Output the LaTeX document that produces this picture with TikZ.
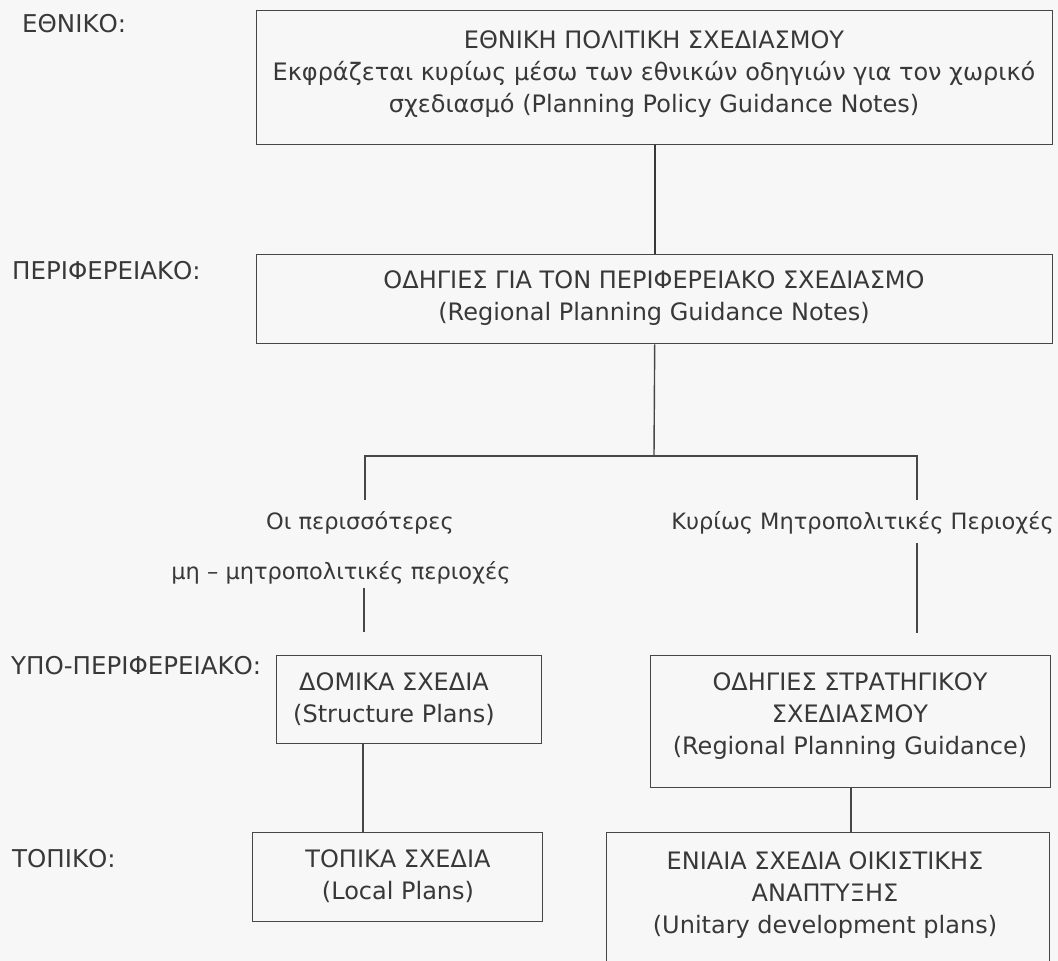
\documentclass[tikz,border=0pt]{standalone}
\usepackage{fontspec}
\setmainfont{DejaVu Sans}
\begin{document}
\begin{tikzpicture}[x=1pt,y=-1pt,
  txt/.style={font=\fontsize{24}{32}\selectfont, text=black!78, inner sep=0pt, align=center},
  lbl/.style={font=\fontsize{24.5}{32}\selectfont, text=black!78, inner sep=0pt},
  brl/.style={font=\fontsize{22.5}{30}\selectfont, text=black!78, inner sep=0pt},
  box/.style={draw=black!72, line width=1.4pt, inner sep=0pt},
  conn/.style={draw=black!72, line width=1.4pt},
  thick conn/.style={draw=black!78, line width=2.2pt}]
\fill[black!3] (0,0) rectangle (1058,961);
\useasboundingbox (0,0) rectangle (1058,961);

% level labels
\node[lbl, anchor=west] (l1) at (22,24) {ΕΘΝΙΚΟ:};
\node[lbl, anchor=west] (l2) at (12,271) {ΠΕΡΙΦΕΡΕΙΑΚΟ:};
\node[lbl, anchor=west] (l3) at (11,666) {ΥΠΟ-ΠΕΡΙΦΕΡΕΙΑΚΟ:};
\node[lbl, anchor=west] (l4) at (12,859) {ΤΟΠΙΚΟ:};

% boxes
\node[box, anchor=north west, minimum width=796pt, minimum height=134pt] (b1) at (256,10) {};
\node[txt] (t1) at (654,74) {ΕΘΝΙΚΗ ΠΟΛΙΤΙΚΗ ΣΧΕΔΙΑΣΜΟΥ\\Εκφράζεται κυρίως μέσω των εθνικών οδηγιών για τον χωρικό\\σχεδιασμό (Planning Policy Guidance Notes)};

\node[box, anchor=north west, minimum width=796pt, minimum height=89pt] (b2) at (256,254) {};
\node[txt] (t2) at (654,298) {ΟΔΗΓΙΕΣ ΓΙΑ ΤΟΝ ΠΕΡΙΦΕΡΕΙΑΚΟ ΣΧΕΔΙΑΣΜΟ\\(Regional Planning Guidance Notes)};

\node[box, anchor=north west, minimum width=265pt, minimum height=88pt] (st) at (276,655) {};
\node[txt] (tst) at (394,699) {ΔΟΜΙΚΑ ΣΧΕΔΙΑ\\(Structure Plans)};

\node[box, anchor=north west, minimum width=400pt, minimum height=132pt] (sg) at (650,655) {};
\node[txt] (tsg) at (850,716) {ΟΔΗΓΙΕΣ ΣΤΡΑΤΗΓΙΚΟΥ\\ΣΧΕΔΙΑΣΜΟΥ\\(Regional Planning Guidance)};

\node[box, anchor=north west, minimum width=290pt, minimum height=89pt] (lo) at (252,832) {};
\node[txt] (tlo) at (398,876) {ΤΟΠΙΚΑ ΣΧΕΔΙΑ\\(Local Plans)};

\node[box, anchor=north west, minimum width=443pt, minimum height=160pt] (un) at (606,832) {};
\node[txt] (tun) at (825,895) {ΕΝΙΑΙΑ ΣΧΕΔΙΑ ΟΙΚΙΣΤΙΚΗΣ\\ΑΝΑΠΤΥΞΗΣ\\(Unitary development plans)};

% branch labels
\node[brl] (oi) at (360,523) {Οι περισσότερες};
\node[brl] (mh) at (341,573) {μη – μητροπολιτικές περιοχές};
\node[brl, anchor=east] (ky) at (1054,523) {Κυρίως Μητροπολιτικές Περιοχές};

% coordinates
\coordinate (jc) at (654,456);
\coordinate (jl) at (365,456);
\coordinate (jr) at (917,456);
\coordinate (dl) at (365,500);
\coordinate (dr) at (917,500);
\coordinate (r1) at (917,543);
\coordinate (r2) at (917,633);
\coordinate (m1) at (364,588);
\coordinate (m2) at (364,632);
\coordinate (xs) at (363,0);
\coordinate (xu) at (851,0);

% connectors
\draw[thick conn] (b1.south) -- (b2.north);
\draw[conn] (b2.south) -- (jc);
\draw[conn] (dl) -- (jl) -- (jr) -- (dr);
\draw[conn] (r1) -- (r2);
\draw[conn] (m1) -- (m2);
\draw[conn] (st.south -| xs) -- (lo.north -| xs);
\draw[conn] (sg.south -| xu) -- (un.north -| xu);
\end{tikzpicture}
\end{document}
